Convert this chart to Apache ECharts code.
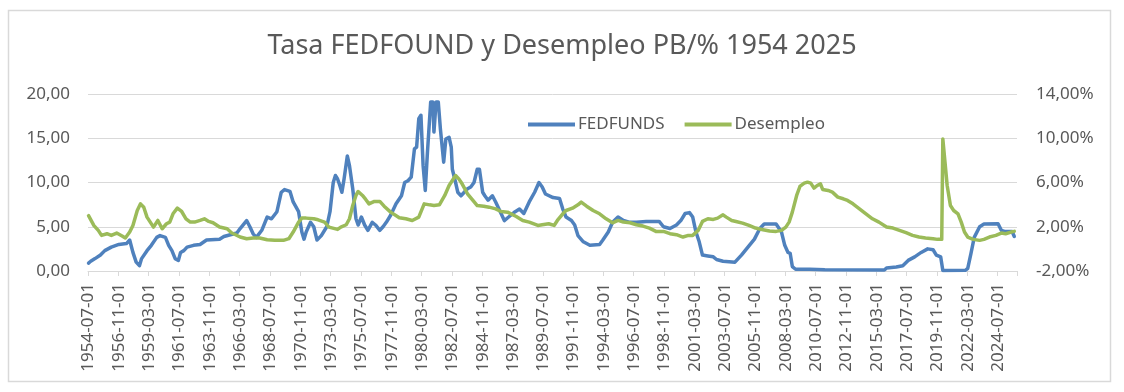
<!DOCTYPE html>
<html>
<head>
<meta charset="utf-8">
<script src="https://cdn.jsdelivr.net/npm/echarts@6/dist/echarts.min.js"></script>
<style>html,body{margin:0;padding:0;background:#fff}#c{width:1124px;height:392px}</style>
</head>
<body>
<div id="c"></div>
<script>
const titleText = 'Tasa FEDFOUND y Desempleo PB/% 1954 2025';
const seriesNames = ['FEDFUNDS', 'Desempleo'];
const firstMonth = [1954, 7];
const lastMonth = [2025, 12];
const labelEvery = 28;
const leftTicks = [0, 5, 10, 15, 20];
const rightTicks = [-2, 2, 6, 10, 14];

// FEDFUNDS (left axis) - key points
const fedDates = ['1954-07','1954-09','1955-01','1955-06','1955-10','1956-04','1956-11','1957-06','1957-09','1957-12',
'1958-03','1958-06','1958-08','1959-01','1959-05','1959-10','1960-01','1960-06','1960-09','1960-12',
'1961-03','1961-06','1961-08','1961-11','1962-02','1962-08','1963-02','1963-08','1964-08','1964-12',
'1965-06','1965-12','1966-03','1966-09','1966-12','1967-03','1967-06','1967-11','1968-04','1968-08',
'1969-01','1969-05','1969-08','1970-01','1970-04','1970-09','1970-12','1971-02','1971-04','1971-08',
'1971-11','1972-02','1972-06','1972-11','1973-02','1973-05','1973-07','1973-09','1973-11','1974-01',
'1974-03','1974-06','1974-08','1974-11','1975-02','1975-04','1975-07','1975-10','1976-01','1976-05',
'1976-08','1976-12','1977-03','1977-06','1977-10','1978-03','1978-08','1978-11','1979-02','1979-05',
'1979-08','1979-10','1979-12','1980-02','1980-04','1980-06','1980-08','1980-11','1981-01','1981-02',
'1981-04','1981-06','1981-08','1981-11','1982-01','1982-04','1982-06','1982-07','1982-10','1982-12',
'1983-03','1983-06','1983-09','1983-12','1984-03','1984-06','1984-08','1984-11','1985-01','1985-04',
'1985-08','1985-11','1986-04','1986-07','1986-11','1987-05','1987-09','1988-01','1988-06','1988-11',
'1989-03','1989-06','1989-09','1990-04','1990-10','1991-01','1991-04','1991-09','1991-12','1992-03',
'1992-08','1993-02','1993-11','1994-02','1994-07','1994-11','1995-04','1995-09','1996-03','1996-09',
'1997-06','1998-06','1998-10','1999-04','1999-10','2000-02','2000-06','2000-10','2001-01','2001-04',
'2001-07','2001-10','2002-03','2002-08','2002-11','2003-05','2004-04','2004-10','2005-04','2005-10',
'2006-03','2006-07','2007-06','2007-11','2008-02','2008-05','2008-07','2008-09','2008-12','2010-01',
'2011-03','2015-10','2015-12','2016-09','2017-03','2017-08','2018-02','2018-08','2019-02','2019-07',
'2019-10','2020-02','2020-04','2022-01','2022-03','2022-06','2022-09','2023-02','2023-06','2024-07',
'2024-10','2025-01','2025-08','2025-10'];
const fedValues = [0.9,1.1,1.4,1.8,2.3,2.7,3.0,3.1,3.5,2.1,
1.0,0.6,1.4,2.3,2.9,3.8,4.0,3.8,2.9,2.3,
1.4,1.2,2.1,2.3,2.7,2.9,3.0,3.5,3.6,3.9,
4.1,4.3,4.8,5.7,5.0,4.2,3.8,4.6,6.1,5.9,
6.7,8.9,9.2,9.0,7.8,6.7,4.4,3.6,4.4,5.5,
5.0,3.5,4.0,5.0,6.7,10.0,10.8,10.4,9.7,8.9,
10.4,13.0,11.9,9.3,5.9,5.2,6.1,5.2,4.6,5.5,
5.2,4.6,5.0,5.5,6.3,7.6,8.5,10.0,10.2,10.6,
13.8,14.0,17.2,17.6,11.9,9.1,13.4,19.1,19.1,15.7,
19.1,19.1,16.0,12.3,14.9,15.1,14.0,11.5,10.0,8.9,
8.5,8.9,9.3,9.5,10.0,11.5,11.5,8.9,8.5,8.0,
8.5,7.8,6.5,5.7,6.1,6.7,7.0,6.5,7.8,8.9,
10.0,9.5,8.7,8.3,8.2,7.0,6.1,5.7,5.2,4.0,
3.3,2.9,3.0,3.5,4.4,5.5,6.1,5.7,5.5,5.5,
5.6,5.6,5.0,4.8,5.2,5.7,6.5,6.6,6.1,4.4,
3.3,1.8,1.7,1.6,1.3,1.1,1.0,1.8,2.7,3.6,
4.8,5.3,5.3,4.4,2.9,2.1,2.0,0.5,0.2,0.2,
0.15,0.12,0.35,0.45,0.6,1.2,1.6,2.1,2.5,2.4,
1.8,1.6,0.05,0.08,0.3,2.0,3.8,5.0,5.3,5.33,
4.6,4.47,4.47,3.9];

// Desempleo (right axis, %) - key points
const unempDates = ['1954-07','1954-12','1955-04','1955-07','1955-12','1956-04','1956-09','1957-02','1957-05','1957-09',
'1957-12','1958-04','1958-07','1958-10','1959-01','1959-04','1959-07','1959-11','1960-03','1960-07',
'1960-10','1961-01','1961-05','1961-09','1962-01','1962-05','1962-09','1963-02','1963-06','1963-10',
'1964-02','1964-08','1965-03','1965-07','1966-03','1966-09','1967-03','1967-09','1968-04','1968-11',
'1969-07','1969-12','1970-04','1970-09','1970-12','1971-04','1971-11','1972-03','1972-09','1973-01',
'1973-09','1973-12','1974-05','1974-08','1974-11','1975-02','1975-04','1975-08','1975-11','1976-02',
'1976-07','1976-12','1977-04','1977-10','1978-06','1978-12','1979-06','1979-12','1980-05','1980-10',
'1981-02','1981-07','1981-12','1982-04','1982-10','1983-01','1983-04','1983-09','1984-02','1984-06',
'1984-12','1985-05','1985-11','1986-04','1986-10','1987-06','1987-12','1988-06','1989-02','1989-06',
'1989-12','1990-05','1990-08','1991-01','1991-04','1991-10','1992-03','1992-06','1992-11','1993-05',
'1993-11','1994-05','1994-11','1995-04','1995-09','1996-03','1996-09','1997-03','1997-09','1998-03',
'1998-10','1999-04','1999-10','2000-04','2000-09','2001-01','2001-06','2001-10','2002-03','2002-08',
'2002-12','2003-05','2003-08','2004-01','2004-05','2004-11','2005-05','2005-11','2006-06','2006-12',
'2007-06','2007-11','2008-03','2008-06','2008-09','2009-01','2009-04','2009-08','2009-11','2010-02',
'2010-05','2010-08','2010-11','2011-01','2011-06','2011-10','2012-03','2012-08','2012-12','2013-05',
'2013-11','2014-05','2014-11','2015-05','2015-12','2016-06','2016-12','2017-06','2017-12','2018-06',
'2018-12','2019-07','2019-11','2020-03','2020-04','2020-06','2020-08','2020-11','2021-02','2021-06',
'2021-09','2021-12','2022-03','2022-08','2023-02','2023-06','2023-11','2024-05','2024-10','2025-02',
'2025-07','2025-10'];
const unempValues = [3.0,2.1,1.67,1.22,1.37,1.22,1.43,1.16,0.98,1.52,
2.12,3.47,4.07,3.77,2.87,2.42,1.97,2.57,1.82,2.27,
2.42,3.17,3.68,3.38,2.72,2.42,2.42,2.57,2.72,2.48,
2.36,1.97,1.82,1.46,1.07,0.92,0.98,0.98,0.83,0.77,
0.77,0.92,1.52,2.42,2.78,2.78,2.72,2.63,2.42,1.97,
1.76,1.97,2.18,2.72,3.92,4.83,5.19,4.83,4.47,4.07,
4.29,4.29,3.86,3.32,2.81,2.72,2.57,2.87,4.07,3.98,
3.92,3.98,4.83,5.73,6.63,6.33,5.88,4.98,4.38,3.92,
3.86,3.77,3.62,3.38,3.32,2.93,2.57,2.42,2.12,2.18,
2.27,2.12,2.57,3.17,3.47,3.68,3.98,4.23,3.86,3.47,
3.17,2.72,2.36,2.57,2.42,2.36,2.18,2.06,1.88,1.58,
1.58,1.37,1.28,1.07,1.22,1.22,1.67,2.48,2.72,2.66,
2.78,3.08,2.87,2.57,2.48,2.33,2.12,1.88,1.73,1.61,
1.58,1.67,1.97,2.42,3.32,4.83,5.64,5.94,6.03,5.94,
5.49,5.73,5.88,5.37,5.28,5.13,4.68,4.53,4.38,4.07,
3.62,3.17,2.72,2.42,1.97,1.88,1.67,1.46,1.22,1.07,
0.98,0.92,0.86,0.86,9.94,7.83,5.73,3.92,3.47,3.17,
2.42,1.52,1.07,0.86,0.77,0.86,1.07,1.22,1.43,1.37,
1.52,1.58];

// monthly category axis
const categories = [];
for (let y = firstMonth[0], m = firstMonth[1]; y < lastMonth[0] || (y === lastMonth[0] && m <= lastMonth[1]); ) {
  categories.push(y + '-' + String(m).padStart(2, '0') + '-01');
  m++; if (m > 12) { m = 1; y++; }
}
const fedData = fedDates.map((d, i) => [d + '-01', fedValues[i]]);
const unempData = unempDates.map((d, i) => [d + '-01', unempValues[i]]);

const FONT = 'Noto Sans';
const TXT = '#595959';
const GRID = '#D9D9D9';
const chart = echarts.init(document.getElementById('c'), null, {renderer: 'canvas'});
chart.setOption({
  animation: false,
  backgroundColor: '#fff',
  textStyle: {fontFamily: FONT},
  graphic: [{type: 'rect', shape: {x: 8.5, y: 10.5, width: 1102, height: 371}, style: {fill: 'none', stroke: GRID, lineWidth: 1.5}, silent: true}],
  title: {text: titleText, left: 'center', top: 28, textStyle: {fontFamily: FONT, fontSize: 27, fontWeight: 'normal', color: TXT}},
  legend: {
    data: seriesNames, left: 523, top: 111, icon: 'rect', itemWidth: 47, itemHeight: 4, itemGap: 20,
    textStyle: {fontFamily: FONT, fontSize: 17, color: TXT, padding: [0, 0, 0, -2]}
  },
  grid: {left: 88, right: 107, top: 94, bottom: 121, containLabel: false},
  xAxis: {
    type: 'category', data: categories, boundaryGap: true,
    axisLine: {lineStyle: {color: GRID, width: 1}},
    axisTick: {show: true, interval: labelEvery - 1, length: 5, lineStyle: {color: GRID}},
    axisLabel: {interval: labelEvery - 1, rotate: 90, fontFamily: FONT, fontSize: 17, color: TXT, margin: 12},
    splitLine: {show: false}
  },
  yAxis: [{
    type: 'value', min: leftTicks[0], max: leftTicks[leftTicks.length - 1], interval: leftTicks[1] - leftTicks[0],
    axisLine: {show: false}, axisTick: {show: false},
    axisLabel: {fontFamily: FONT, fontSize: 17, color: TXT, margin: 18, formatter: v => v.toFixed(2).replace('.', ',')},
    splitLine: {lineStyle: {color: GRID, width: 1}}
  }, {
    type: 'value', min: rightTicks[0], max: rightTicks[rightTicks.length - 1], interval: rightTicks[1] - rightTicks[0],
    axisLine: {show: false}, axisTick: {show: false},
    axisLabel: {fontFamily: FONT, fontSize: 17, color: TXT, margin: 19, formatter: v => v.toFixed(2).replace('.', ',') + '%'},
    splitLine: {show: false}
  }],
  series: [{
    name: seriesNames[0], type: 'line', yAxisIndex: 0, data: fedData, showSymbol: false, symbol: 'none',
    lineStyle: {color: '#4F81BD', width: 3.5, join: 'round', cap: 'round'}, itemStyle: {color: '#4F81BD'}, z: 2
  }, {
    name: seriesNames[1], type: 'line', yAxisIndex: 1, data: unempData, showSymbol: false, symbol: 'none',
    lineStyle: {color: '#9BBB59', width: 3.5, join: 'round', cap: 'round'}, itemStyle: {color: '#9BBB59'}, z: 3
  }]
});
</script>
</body>
</html>
